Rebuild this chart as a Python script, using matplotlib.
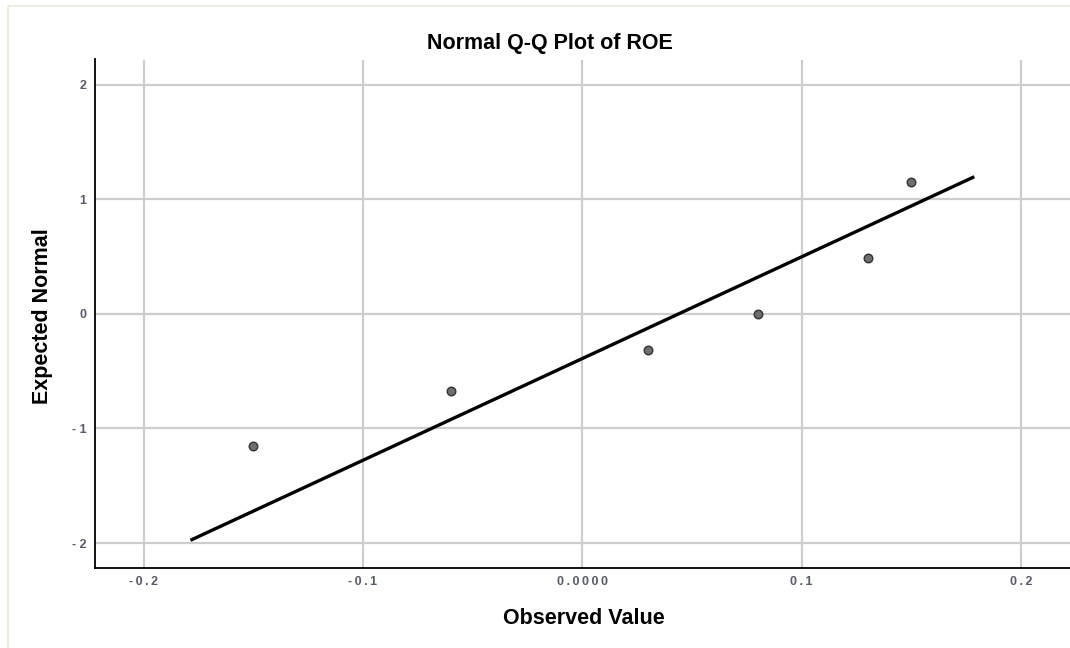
import matplotlib
matplotlib.use("Agg")
import matplotlib.pyplot as plt
from matplotlib.patches import Rectangle

observed = [-0.150, -0.060, 0.030, 0.080, 0.130, 0.150]
expected = [-1.15, -0.67, -0.32, 0.0, 0.49, 1.15]

# reference line end points
line_x = [-0.178, 0.178]
line_y = [-1.97, 1.19]

x_ticks = [-0.2, -0.1, 0.0, 0.1, 0.2]
x_tick_labels = ["-0.2", "-0.1", "0.0000", "0.1", "0.2"]
y_ticks = [-2, -1, 0, 1, 2]
y_tick_labels = ["- 2", "- 1", "0", "1", "2"]


def spaced(s):
    # SPSS draws the tick labels with a bit of letter spacing
    return "\u2009".join(s)


plt.rcParams['font.family'] = ['Liberation Sans', 'DejaVu Sans']

fig = plt.figure(figsize=(10.7, 6.48), dpi=100)
ax = fig.add_axes([95 / 1070, 1 - 568 / 648, 1 - 95 / 1070, (568 - 59.5) / 648])

ax.grid(True, color='#cdcdcd', linewidth=1.6)
ax.set_axisbelow(True)

ax.plot(line_x, line_y, color='black', linewidth=2.4, zorder=3)
ax.scatter(observed, expected, s=38, color='#6e6e6e', edgecolors='#333333',
           linewidths=1.0, zorder=4)

ax.set_xlim(-0.2222, 0.2223)
ax.set_ylim(-2.218, 2.219)
ax.set_xticks(x_ticks)
ax.set_xticklabels([spaced(t) for t in x_tick_labels])
ax.set_yticks(y_ticks)
ax.set_yticklabels(y_tick_labels)
ax.tick_params(length=0, labelsize=9, labelcolor='#575c68')
ax.tick_params(axis='x', pad=6)
ax.tick_params(axis='y', pad=6)
for lab in ax.get_xticklabels() + ax.get_yticklabels():
    lab.set_fontweight('bold')

for side in ['top', 'right']:
    ax.spines[side].set_visible(False)
for side in ['left', 'bottom']:
    ax.spines[side].set_color('black')
    ax.spines[side].set_linewidth(1.3)

fig.text(549.5 / 1070, 1 - 43 / 648, "Normal Q-Q Plot of ROE", ha='center',
         va='center', fontsize=15.5, fontweight='bold')
fig.text(584 / 1070, 1 - 618 / 648, "Observed Value", ha='center',
         va='center', fontsize=15.5, fontweight='bold')
fig.text(43 / 1070, 1 - 316 / 648, "Expected Normal", ha='center',
         va='center', fontsize=15.5, fontweight='bold', rotation=90)

# thin frame around the chart area
fig.patches.append(Rectangle((7.5 / 1070, -0.01), 1.1, 1 - 5.5 / 648 + 0.01,
                             transform=fig.transFigure, fill=False,
                             edgecolor='#ebe8dc', linewidth=1.2))

fig.savefig("out.png", dpi=100)
